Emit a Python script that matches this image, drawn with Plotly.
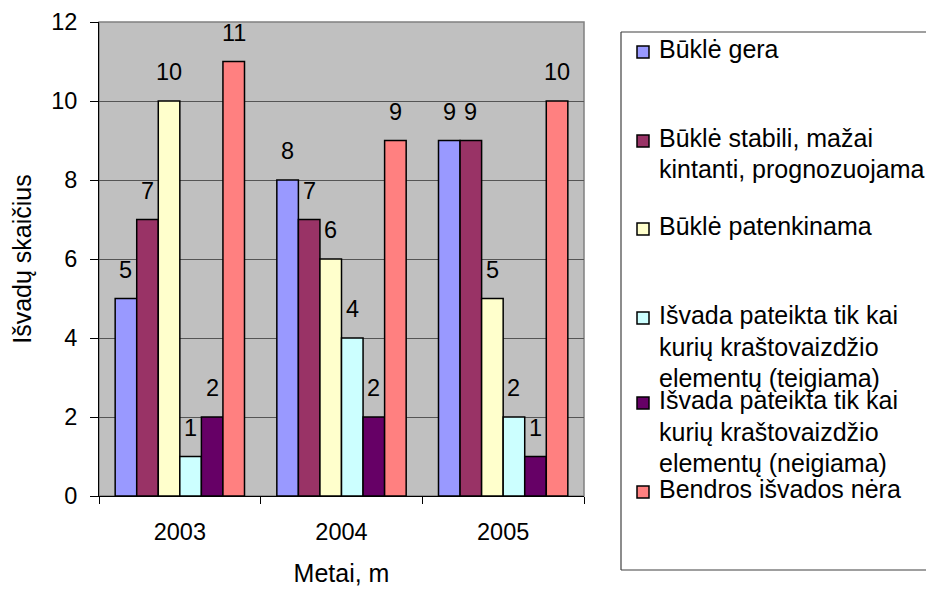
import plotly.graph_objects as go

years = ["2003", "2004", "2005"]
series_names = [
    "Būklė gera",
    "Būklė stabili, mažai kintanti, prognozuojama",
    "Būklė patenkinama",
    "Išvada pateikta tik kai kurių kraštovaizdžio elementų (teigiama)",
    "Išvada pateikta tik kai kurių kraštovaizdžio elementų (neigiama)",
    "Bendros išvados nėra",
]
legend_lines = [
    ["Būklė gera"],
    ["Būklė stabili, mažai", "kintanti, prognozuojama"],
    ["Būklė patenkinama"],
    ["Išvada pateikta tik kai", "kurių kraštovaizdžio", "elementų (teigiama)"],
    ["Išvada pateikta tik kai", "kurių kraštovaizdžio", "elementų (neigiama)"],
    ["Bendros išvados nėra"],
]
values = [
    [5, 8, 9],
    [7, 7, 9],
    [10, 6, 5],
    [1, 4, 2],
    [2, 2, 1],
    [11, 9, 10],
]
colors = ["#9999FF", "#993366", "#FFFFCC", "#CCFFFF", "#660066", "#FF8080"]
y_ticks = [0, 2, 4, 6, 8, 10, 12]

FONT = "Liberation Sans, Arial, sans-serif"
NUM_SIZE = 23.5
TXT_SIZE = 25
OFF = 8  # page body margin
W, H = 960, 586
L, R, T, B = 91, 384, 14, 98
PW, PH = W - L - R, H - T - B


def px(x_page):
    return (x_page - OFF - L) / PW


def py(y_page):
    return (H - B - (y_page - OFF)) / PH


fig = go.Figure()
for name, vals, col in zip(series_names, values, colors):
    fig.add_trace(go.Bar(
        x=years, y=vals, name=name,
        marker=dict(color=col, line=dict(color="black", width=1.5)),
        showlegend=False,
    ))

# data labels (x given as category index on the category axis)
cat_w = PW / len(years)
bar_w = cat_w * 0.8 / len(series_names)
ann = []
for i, vals in enumerate(values):
    for j, v in enumerate(vals):
        ann.append(dict(
            x=j, y=v, xref="x", yref="y", text=str(v), showarrow=False,
            xshift=(i - (len(series_names) - 1) / 2) * bar_w,
            yanchor="bottom", yshift=14,
            font=dict(family=FONT, size=NUM_SIZE, color="black"),
        ))

# manual legend box (right edge runs off the page, as in the original)
lx0, lx1, ly0, ly1 = px(621), px(960), py(570), py(32)
box_line = dict(color="#404040", width=1.2)
shapes = [
    dict(type="rect", xref="paper", yref="paper", x0=0, x1=1, y0=0, y1=1,
         line=dict(color="#808080", width=1.5), layer="below"),
    dict(type="line", xref="paper", yref="paper", x0=lx0, x1=lx0, y0=ly0, y1=ly1, line=box_line),
    dict(type="line", xref="paper", yref="paper", x0=lx0, x1=lx1, y0=ly1, y1=ly1, line=box_line),
    dict(type="line", xref="paper", yref="paper", x0=lx0, x1=lx1, y0=ly0, y1=ly0, line=box_line),
]
line_y = [[49], [138, 169], [226], [315, 347, 378], [400, 432, 463], [489]]
for lines, ys, col in zip(legend_lines, line_y, colors):
    shapes.append(dict(type="rect", xref="paper", yref="paper",
                       x0=px(637), x1=px(649), y0=py(ys[0] + 9), y1=py(ys[0] - 3),
                       fillcolor=col, line=dict(color="black", width=1.5)))
    for t, yy in zip(lines, ys):
        ann.append(dict(x=px(657), y=py(yy), xref="paper", yref="paper",
                        text=t, showarrow=False, xanchor="left", yanchor="middle",
                        font=dict(family=FONT, size=TXT_SIZE, color="black")))

fig.update_layout(
    width=W, height=H,
    margin=dict(l=L, r=R, t=T, b=B, autoexpand=False),
    paper_bgcolor="white", plot_bgcolor="#C0C0C0",
    barmode="group", bargap=0.2, bargroupgap=0,
    font=dict(family=FONT, size=NUM_SIZE, color="black"),
    annotations=ann, shapes=shapes,
)
fig.update_xaxes(
    type="category", categoryorder="array", categoryarray=years,
    range=[-0.5, len(years) - 0.5], autorange=False,
    tickson="boundaries", ticks="outside", ticklen=7,
    tickcolor="black", showline=True, linecolor="black", linewidth=1,
    showgrid=False, tickangle=0, ticklabelstandoff=15,
    title=dict(text="Metai, m", standoff=20, font=dict(family=FONT, size=TXT_SIZE)),
    tickfont=dict(family=FONT, size=NUM_SIZE),
)
fig.update_yaxes(
    range=[0, 12], tickvals=y_ticks, ticks="outside", ticklen=8,
    tickcolor="black", showline=True, linecolor="black", linewidth=1,
    showgrid=True, gridcolor="#555555", gridwidth=1, zeroline=False,
    ticklabelstandoff=8,
    title=dict(text="Išvadų skaičius", standoff=16, font=dict(family=FONT, size=TXT_SIZE)),
    tickfont=dict(family=FONT, size=NUM_SIZE),
)

fig.write_html("out.html")
